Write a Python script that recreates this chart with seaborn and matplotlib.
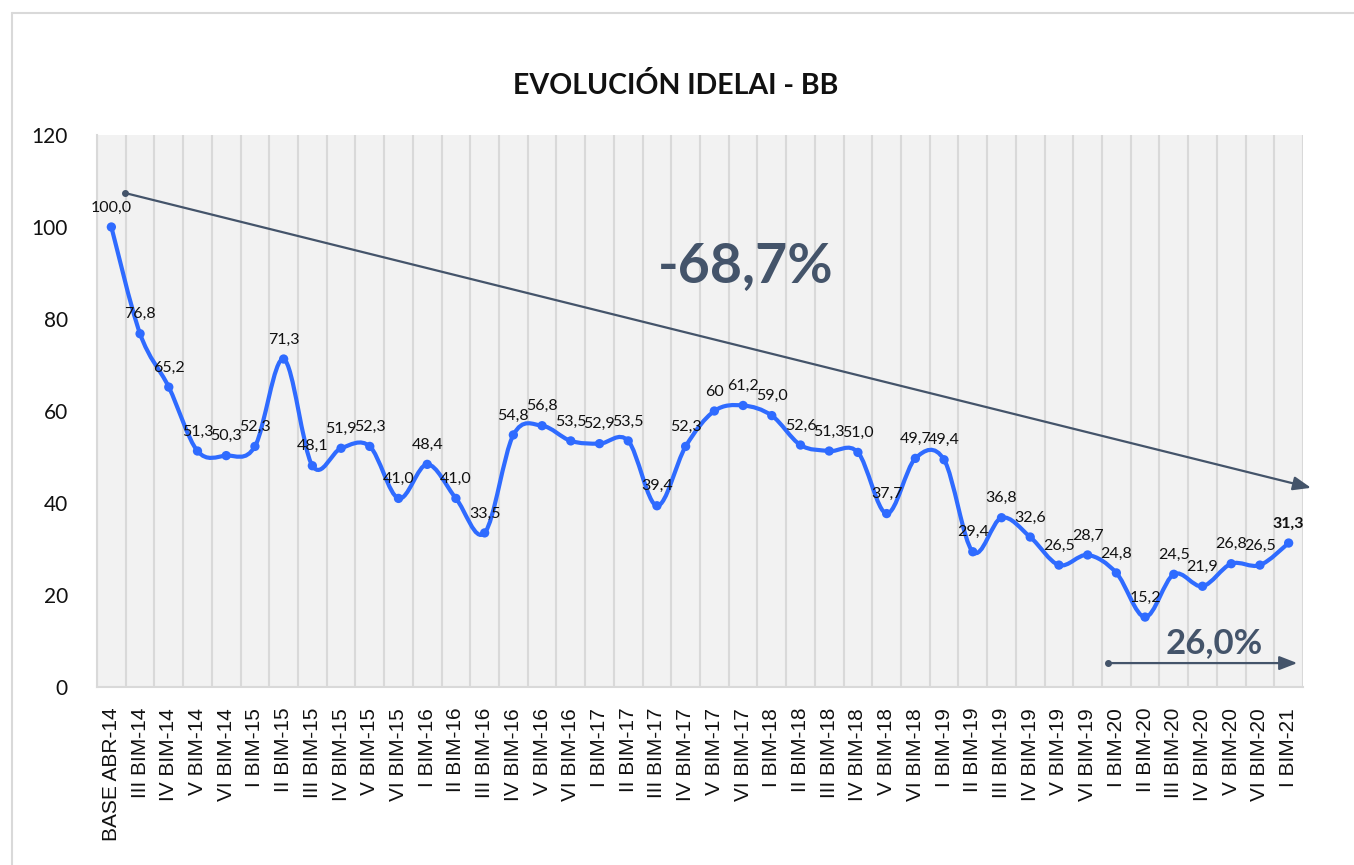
import numpy as np
import pandas as pd
import matplotlib
matplotlib.use("Agg")
import matplotlib.pyplot as plt
from matplotlib.path import Path
from matplotlib.patches import PathPatch
from matplotlib.lines import Line2D
import seaborn as sns

# -----------------------------
# Data
# -----------------------------
periods = ["BASE ABR-14", "III BIM-14", "IV BIM-14", "V BIM-14", "VI BIM-14",
           "I BIM-15", "II BIM-15", "III BIM-15", "IV BIM-15", "V BIM-15", "VI BIM-15",
           "I BIM-16", "II BIM-16", "III BIM-16", "IV BIM-16", "V BIM-16", "VI BIM-16",
           "I BIM-17", "II BIM-17", "III BIM-17", "IV BIM-17", "V BIM-17", "VI BIM-17",
           "I BIM-18", "II BIM-18", "III BIM-18", "IV BIM-18", "V BIM-18", "VI BIM-18",
           "I BIM-19", "II BIM-19", "III BIM-19", "IV BIM-19", "V BIM-19", "VI BIM-19",
           "I BIM-20", "II BIM-20", "III BIM-20", "IV BIM-20", "V BIM-20", "VI BIM-20",
           "I BIM-21"]
idelai = [100.0, 76.8, 65.2, 51.3, 50.3, 52.3, 71.3, 48.1, 51.9, 52.3, 41.0,
          48.4, 41.0, 33.5, 54.8, 56.8, 53.5, 52.9, 53.5, 39.4, 52.3, 60.0,
          61.2, 59.0, 52.6, 51.3, 51.0, 37.7, 49.7, 49.4, 29.4, 36.8, 32.6,
          26.5, 28.7, 24.8, 15.2, 24.5, 21.9, 26.8, 26.5, 31.3]
total_change = "-68,7%"
last_year_change = "26,0%"

df = pd.DataFrame({"periodo": periods, "idelai": idelai})
df["pos"] = np.arange(len(df))
value_labels = [f"{v:.1f}".replace(".", ",") for v in idelai]
value_labels[21] = "60"

# -----------------------------
# Style
# -----------------------------
LINE = "#2F6BFF"
DARK = "#44546A"
GRID = "#D9D9D9"

sns.set_theme(style="white")
plt.rcParams["font.family"] = ["Lato", "DejaVu Sans"]

fig = plt.figure(figsize=(13.54, 8.65), dpi=100)
ax = fig.add_axes([97 / 1354, 1 - 687 / 865, (1303 - 97) / 1354, (687 - 135) / 865])
ax.set_facecolor("#F2F2F2")

# outer chart frame (left and top edge visible)
fig.add_artist(Line2D([12 / 1354, 12 / 1354], [0, 1 - 13 / 865], transform=fig.transFigure,
                      color=GRID, lw=1.5))
fig.add_artist(Line2D([12 / 1354, 1], [1 - 13 / 865, 1 - 13 / 865], transform=fig.transFigure,
                      color=GRID, lw=1.5))

# -----------------------------
# Smoothed line (Bezier through the points, Excel-like)
# -----------------------------
xs = df["pos"].to_numpy(dtype=float)
ys = df["idelai"].to_numpy(dtype=float)
pts = np.column_stack([xs, ys])
verts = [pts[0]]
codes = [Path.MOVETO]
n = len(pts)
for i in range(n - 1):
    p0 = pts[i - 1] if i > 0 else pts[i]
    p1 = pts[i]
    p2 = pts[i + 1]
    p3 = pts[i + 2] if i + 2 < n else pts[i + 1]
    c1 = p1 + (p2 - p0) / 6
    c2 = p2 - (p3 - p1) / 6
    verts += [c1, c2, p2]
    codes += [Path.CURVE4] * 3
ax.add_patch(PathPatch(Path(verts, codes), facecolor="none", edgecolor=LINE, lw=3, zorder=3))

sns.scatterplot(data=df, x="pos", y="idelai", color=LINE, s=45, edgecolor="none",
                zorder=4, ax=ax, legend=False)

# data labels
for i, (x, y) in enumerate(zip(xs, ys)):
    ax.annotate(value_labels[i], (x, y), xytext=(0, 9), textcoords="offset points",
                ha="center", va="bottom", fontsize=11.5, color="#111111",
                fontweight="bold" if i == n - 1 else "normal", zorder=5)

# -----------------------------
# Trend arrows and annotations
# -----------------------------
ax.annotate("", xy=(41.78, 43.3), xytext=(0.47, 107.4),
            arrowprops=dict(arrowstyle="-|>,head_length=0.9,head_width=0.35",
                            color=DARK, lw=1.6, shrinkA=0, shrinkB=0),
            annotation_clip=False, clip_on=False, zorder=2)
ax.plot([0.47], [107.4], "o", color=DARK, ms=4, zorder=2)
ax.text(22.1, 91.5, total_change, ha="center", va="center", fontsize=40,
        fontweight="bold", color=DARK)

ax.annotate("", xy=(41.3, 5.2), xytext=(34.7, 5.2),
            arrowprops=dict(arrowstyle="-|>,head_length=0.9,head_width=0.35",
                            color=DARK, lw=1.6, shrinkA=0, shrinkB=0),
            annotation_clip=False, clip_on=False, zorder=2)
ax.plot([34.7], [5.2], "o", color=DARK, ms=4, zorder=2)
ax.text(38.4, 9.6, last_year_change, ha="center", va="center", fontsize=25,
        fontweight="bold", color=DARK)

# -----------------------------
# Axes
# -----------------------------
ax.set_xlim(-0.5, len(df) - 0.5)
ax.set_ylim(0, 120)
ax.set_yticks(range(0, 121, 20))
ax.set_xticks(df["pos"])
ax.set_xticklabels(df["periodo"], rotation=90, fontsize=15,
                   family=["Liberation Sans", "DejaVu Sans"], color="#111111")
ax.set_xticks(np.arange(-0.5, len(df), 1.0), minor=True)
ax.tick_params(axis="x", which="major", length=0, pad=15)
ax.tick_params(axis="x", which="minor", length=8, color=GRID, width=1.2)
ax.tick_params(axis="y", length=7, color=GRID, width=1.2, pad=14, labelsize=15,
               labelcolor="#111111")
ax.grid(False)
ax.grid(True, axis="x", which="minor", color=GRID, lw=1.5)
for side in ["top", "right"]:
    ax.spines[side].set_visible(False)
for side in ["left", "bottom"]:
    ax.spines[side].set_color(GRID)
    ax.spines[side].set_linewidth(1.5)
ax.set_xlabel("")
ax.set_ylabel("")

fig.text(676 / 1354, 1 - 86 / 865, "EVOLUCIÓN IDELAI - BB", ha="center", va="center",
         fontsize=20.5, fontweight="bold", color="#111111")

fig.savefig("out.png", dpi=100, facecolor="white")
